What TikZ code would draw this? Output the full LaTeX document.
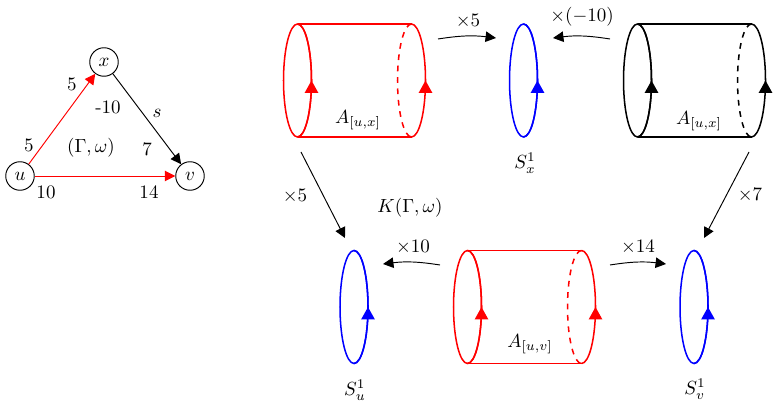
\documentclass[tikz,border=0pt]{standalone}
\usetikzlibrary{arrows.meta,decorations.markings}
\tikzset{
  px/.style={x=0.526pt,y=-0.526pt},
  gnode/.style={draw,circle,minimum size=15pt,inner sep=0pt,line width=0.5pt},
  garrow/.style={line width=0.5pt,-{Triangle[length=5.5pt,width=5.5pt]}},
  marrow/.style={line width=0.5pt,-{Triangle[length=5.5pt,width=5.5pt]}},
  upmark/.style={decoration={markings,mark=at position 0.5 with {\arrow{Triangle[length=6.5pt,width=7pt]}}},postaction=decorate},
  cyl/.style={line width=0.8pt},
  lab/.style={inner sep=1pt}
}
\newcommand{\mycylinder}[3]{%
  % #1 = x of left ellipse centre, #2 = y, #3 = colour
  \draw[cyl,#3] (#1,#2) ellipse[x radius=14,y radius=56.5];
  \draw[cyl,#3,upmark] (#1,#2+56.5) arc[start angle=90,end angle=-90,x radius=14,y radius=56.5];
  \draw[cyl,#3] (#1,#2-56.5) -- (#1+114,#2-56.5);
  \draw[cyl,#3] (#1,#2+56.5) -- (#1+114,#2+56.5);
  \draw[cyl,#3,upmark] (#1+114,#2+56.5) arc[start angle=90,end angle=-90,x radius=14,y radius=56.5];
  \draw[cyl,#3,dashed] (#1+114,#2-56.5) arc[start angle=-90,end angle=-270,x radius=14,y radius=56.5];
}
\newcommand{\mycircle}[2]{%
  \draw[cyl,blue] (#1,#2) ellipse[x radius=14,y radius=56.5];
  \draw[cyl,blue,upmark] (#1,#2+56.5) arc[start angle=90,end angle=-90,x radius=14,y radius=56.5];
}
\begin{document}
\begin{tikzpicture}[px]
\useasboundingbox (0,0) rectangle (779,410);
% ---------- graph ----------
\node[gnode] (u) at (20,176) {$u$};
\node[gnode] (x) at (104,62) {$x$};
\node[gnode] (v) at (190,176) {$v$};
\draw[garrow,red] (u) -- (x);
\draw[garrow,red] (u) -- (v);
\draw[garrow] (x) -- (v);
\node[lab] (l1) at (72,84) {$5$};
\node[lab] (l2) at (29,145) {$5$};
\node[lab] (l3) at (108,107) {-10};
\node[lab] (l4) at (157,113) {$s$};
\node[lab] (l5) at (91,148) {$(\Gamma,\omega)$};
\node[lab] (l6) at (147,149) {$7$};
\node[lab] (l7) at (46,192) {$10$};
\node[lab] (l8) at (149,192) {$14$};
% ---------- cylinders and circles ----------
\mycylinder{297.5}{80.5}{red}
\mycylinder{637.5}{80.5}{black}
\mycylinder{467.5}{307}{red}
\mycircle{523.5}{80.5}
\mycircle{354}{307}
\mycircle{694}{307}
\node[lab] (A1) at (358,120) {$A_{[u,x]}$};
\node[lab] (A2) at (699,121) {$A_{[u,x]}$};
\node[lab] (A3) at (530,344) {$A_{[u,v]}$};
\node[lab] (Sx) at (525,163) {$S^1_x$};
\node[lab] (Su) at (355,390) {$S^1_u$};
\node[lab] (Sv) at (695,389) {$S^1_v$};
% ---------- maps ----------
\coordinate (p1s) at (438,39);
\coordinate (p1e) at (496,38);
\coordinate (p2s) at (610,39);
\coordinate (p2e) at (553,38);
\coordinate (p3s) at (301,152);
\coordinate (p3e) at (345,238);
\coordinate (p4s) at (749,152);
\coordinate (p4e) at (704,238);
\coordinate (p5s) at (440,265);
\coordinate (p5e) at (383,264);
\coordinate (p6s) at (610,265);
\coordinate (p6e) at (666,264);
\draw[marrow] (p1s) to[bend left=8] (p1e);
\draw[marrow] (p2s) to[bend right=8] (p2e);
\draw[marrow] (p3s) -- (p3e);
\draw[marrow] (p4s) -- (p4e);
\draw[marrow] (p5s) to[bend right=8] (p5e);
\draw[marrow] (p6s) to[bend left=8] (p6e);
\node[lab] (m1) at (468,21) {$\times 5$};
\node[lab] (m2) at (582,17) {$\times(-10)$};
\node[lab] (m3) at (295,196) {$\times 5$};
\node[lab] (m4) at (750,195) {$\times 7$};
\node[lab] (m5) at (413,247) {$\times 10$};
\node[lab] (m6) at (638,247) {$\times 14$};
\node[lab] (K) at (410,208) {$K(\Gamma,\omega)$};
\end{tikzpicture}
\end{document}
